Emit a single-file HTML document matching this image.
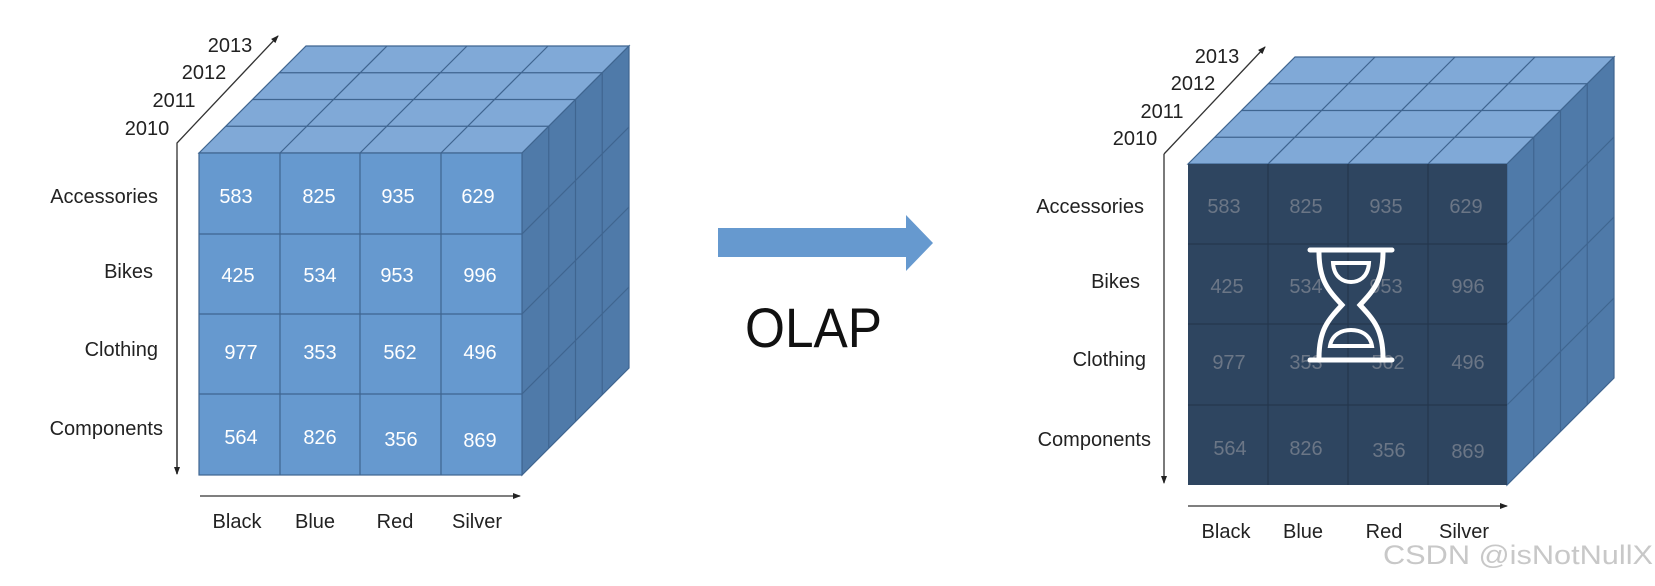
<!DOCTYPE html>
<html><head><meta charset="utf-8"><style>
html,body{margin:0;padding:0;background:#fff;}
svg{display:block;}
text{font-family:"Liberation Sans",sans-serif;}
</style></head><body>
<svg width="1655" height="586" viewBox="0 0 1655 586" xmlns="http://www.w3.org/2000/svg">
<defs>
<marker id="ah" markerWidth="8" markerHeight="8" refX="7" refY="4" orient="auto" markerUnits="userSpaceOnUse"><path d="M0,1 L8,4 L0,7 z" fill="#222"/></marker>
</defs>
<rect width="1655" height="586" fill="#fff"/>

<!-- LEFT CUBE -->
<g stroke="#3f6590" stroke-width="1.2">
<polygon points="199,153 522,153 629,46 306,46" fill="#80a9d7"/>
<polygon points="522,153 629,46 629,368 522,475" fill="#4f7aa9"/>
<rect x="199" y="153" width="323" height="322" fill="#6699cf"/>
<line x1="225.75" y1="126.25" x2="548.75" y2="126.25"/>
<line x1="252.5" y1="99.5" x2="575.5" y2="99.5"/>
<line x1="279.25" y1="72.75" x2="602.25" y2="72.75"/>
<line x1="280" y1="153" x2="387" y2="46"/>
<line x1="360" y1="153" x2="467" y2="46"/>
<line x1="441" y1="153" x2="548" y2="46"/>
<line x1="548.75" y1="126.25" x2="548.75" y2="448.25"/>
<line x1="575.5" y1="99.5" x2="575.5" y2="421.5"/>
<line x1="602.25" y1="72.75" x2="602.25" y2="394.75"/>
<line x1="522" y1="234" x2="629" y2="127"/>
<line x1="522" y1="314" x2="629" y2="207"/>
<line x1="522" y1="394" x2="629" y2="287"/>
<line x1="280" y1="153" x2="280" y2="475"/>
<line x1="360" y1="153" x2="360" y2="475"/>
<line x1="441" y1="153" x2="441" y2="475"/>
<line x1="199" y1="234" x2="522" y2="234"/>
<line x1="199" y1="314" x2="522" y2="314"/>
<line x1="199" y1="394" x2="522" y2="394"/>
</g>
<g fill="#fff" font-size="20" text-anchor="middle">
<text x="236" y="203">583</text><text x="319" y="203">825</text><text x="398" y="203">935</text><text x="478" y="203">629</text>
<text x="238" y="282">425</text><text x="320" y="282">534</text><text x="397" y="282">953</text><text x="480" y="282">996</text>
<text x="241" y="359">977</text><text x="320" y="359">353</text><text x="400" y="359">562</text><text x="480" y="359">496</text>
<text x="241" y="444">564</text><text x="320" y="444">826</text><text x="401" y="446">356</text><text x="480" y="447">869</text>
</g>
<g fill="#222" font-size="20">
<g text-anchor="end">
<text x="158" y="203">Accessories</text>
<text x="153" y="278">Bikes</text>
<text x="158" y="356">Clothing</text>
<text x="163" y="435">Components</text>
</g>
<g text-anchor="middle">
<text x="230" y="52">2013</text>
<text x="204" y="79">2012</text>
<text x="174" y="107">2011</text>
<text x="147" y="135">2010</text>
<text x="237" y="528">Black</text>
<text x="315" y="528">Blue</text>
<text x="395" y="528">Red</text>
<text x="477" y="528">Silver</text>
</g>
</g>
<g stroke="#333" stroke-width="1.3" fill="none">
<polyline points="177,474 177,143 278,36" marker-end="url(#ah)"/>
<line x1="177" y1="160" x2="177" y2="474" marker-end="url(#ah)"/>
<line x1="200" y1="496" x2="520" y2="496" marker-end="url(#ah)"/>
</g>

<!-- ARROW -->
<polygon points="718,228 906,228 906,215 933,243 906,271 906,257 718,257" fill="#6699cf"/>
<text x="745" y="347" font-size="56" fill="#111" textLength="137" lengthAdjust="spacingAndGlyphs">OLAP</text>

<!-- RIGHT CUBE -->
<g stroke="#3f6590" stroke-width="1.2">
<polygon points="1188,164 1507,164 1614,57 1295,57" fill="#80a9d7"/>
<polygon points="1507,164 1614,57 1614,378 1507,485" fill="#4f7aa9"/>
<line x1="1214.75" y1="137.25" x2="1533.75" y2="137.25"/>
<line x1="1241.5" y1="110.5" x2="1560.5" y2="110.5"/>
<line x1="1268.25" y1="83.75" x2="1587.25" y2="83.75"/>
<line x1="1268" y1="164" x2="1375" y2="57"/>
<line x1="1348" y1="164" x2="1455" y2="57"/>
<line x1="1428" y1="164" x2="1535" y2="57"/>
<line x1="1533.75" y1="137.25" x2="1533.75" y2="458.25"/>
<line x1="1560.5" y1="110.5" x2="1560.5" y2="431.5"/>
<line x1="1587.25" y1="83.75" x2="1587.25" y2="404.75"/>
<line x1="1507" y1="244" x2="1614" y2="137"/>
<line x1="1507" y1="324" x2="1614" y2="217"/>
<line x1="1507" y1="405" x2="1614" y2="298"/>
</g>
<rect x="1188" y="164" width="319" height="321" fill="#2e4560"/>
<g stroke="#24374d" stroke-width="1.2">
<line x1="1268" y1="164" x2="1268" y2="485"/>
<line x1="1348" y1="164" x2="1348" y2="485"/>
<line x1="1428" y1="164" x2="1428" y2="485"/>
<line x1="1188" y1="244" x2="1507" y2="244"/>
<line x1="1188" y1="324" x2="1507" y2="324"/>
<line x1="1188" y1="405" x2="1507" y2="405"/>
</g>
<g fill="#6b7686" font-size="20" text-anchor="middle">
<text x="1224" y="213">583</text><text x="1306" y="213">825</text><text x="1386" y="213">935</text><text x="1466" y="213">629</text>
<text x="1227" y="293">425</text><text x="1306" y="293">534</text><text x="1386" y="293">953</text><text x="1468" y="293">996</text>
<text x="1229" y="369">977</text><text x="1306" y="369">353</text><text x="1388" y="369">562</text><text x="1468" y="369">496</text>
<text x="1230" y="455">564</text><text x="1306" y="455">826</text><text x="1389" y="457">356</text><text x="1468" y="458">869</text>
</g>
<!-- hourglass -->
<g stroke="#fff" stroke-width="5" fill="none" stroke-linecap="round">
<line x1="1310" y1="250" x2="1392" y2="250"/>
<line x1="1310" y1="360" x2="1392" y2="360"/>
<path d="M1319,252 C1319,280 1328,290 1342,305 C1328,320 1319,330 1319,358"/>
<path d="M1383,252 C1383,280 1374,290 1360,305 C1374,320 1383,330 1383,358"/>
</g>
<path d="M1333,263 L1369,263 C1368,278 1358,282 1351,282 C1344,282 1334,278 1333,263 z" fill="none" stroke="#fff" stroke-width="4"/>
<path d="M1330,346 C1332,334 1342,330 1351,330 C1360,330 1370,334 1372,346 z" fill="none" stroke="#fff" stroke-width="4"/>

<g fill="#222" font-size="20">
<g text-anchor="end">
<text x="1144" y="213">Accessories</text>
<text x="1140" y="288">Bikes</text>
<text x="1146" y="366">Clothing</text>
<text x="1151" y="446">Components</text>
</g>
<g text-anchor="middle">
<text x="1217" y="63">2013</text>
<text x="1193" y="90">2012</text>
<text x="1162" y="118">2011</text>
<text x="1135" y="145">2010</text>
<text x="1226" y="538">Black</text>
<text x="1303" y="538">Blue</text>
<text x="1384" y="538">Red</text>
<text x="1464" y="538">Silver</text>
</g>
</g>
<g stroke="#333" stroke-width="1.3" fill="none">
<polyline points="1164,154 1265,47" marker-end="url(#ah)"/>
<line x1="1164" y1="154" x2="1164" y2="483" marker-end="url(#ah)"/>
<line x1="1188" y1="506" x2="1507" y2="506" marker-end="url(#ah)"/>
</g>
<text x="1383" y="564" font-size="27" fill="#c8c8c8" textLength="270" lengthAdjust="spacingAndGlyphs">CSDN @isNotNullX</text>
</svg>
</body></html>
